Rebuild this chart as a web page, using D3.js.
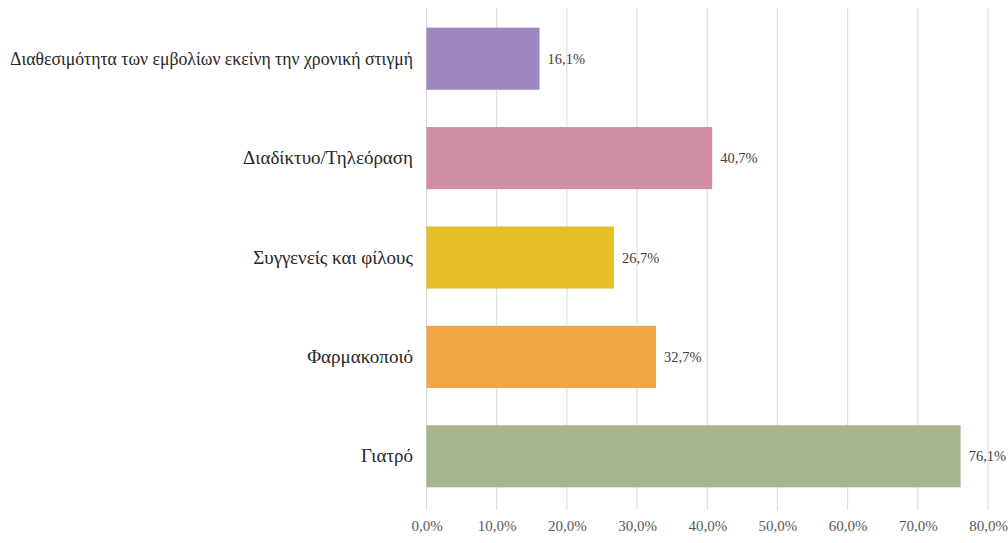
<!DOCTYPE html>
<html>
<head>
<meta charset="utf-8">
<script src="https://cdn.jsdelivr.net/npm/d3@7"></script>
<style>
  html, body { margin: 0; padding: 0; background: #fff; }
  svg { display: block; }
</style>
</head>
<body>
<svg id="chart" width="1008" height="543"></svg>
<script>
// Categories listed top to bottom
const categories = [
  "Διαθεσιμότητα των εμβολίων εκείνη την χρονική στιγμή",
  "Διαδίκτυο/Τηλεόραση",
  "Συγγενείς και φίλους",
  "Φαρμακοποιό",
  "Γιατρό"
];
const values = [16.1, 40.7, 26.7, 32.7, 76.1];
const barColors = ["#9e86c0", "#d08fa6", "#e5be28", "#f2a545", "#a6b490"];
const tickValues = [0, 10, 20, 30, 40, 50, 60, 70, 80];

const svg = d3.select("#chart");
const fontFamily = "'Liberation Serif', 'DejaVu Serif', serif";

const x = d3.scaleLinear().domain([0, 80]).range([426.5, 988]);
const y = d3.scaleBand().domain(categories).range([9, 506]).paddingInner(0.375).paddingOuter(0.1875);

const fmt = v => d3.format(".1f")(v).replace(".", ",") + "%";

// Vertical gridlines
svg.append("g")
  .selectAll("line")
  .data(tickValues)
  .join("line")
  .attr("x1", d => x(d)).attr("x2", d => x(d))
  .attr("y1", 8).attr("y2", 510)
  .attr("stroke", "#d9d9d9")
  .attr("stroke-width", 1);

// X axis tick labels
const xAxis = d3.axisBottom(x).tickValues(tickValues).tickFormat(fmt).tickSize(0).tickPadding(0);
const gx = svg.append("g").attr("transform", "translate(0,520)").call(xAxis);
gx.select(".domain").remove();
gx.selectAll("text")
  .attr("font-family", fontFamily)
  .attr("font-size", 15)
  .attr("fill", "#595959");

// Bars
svg.append("g")
  .selectAll("rect")
  .data(categories)
  .join("rect")
  .attr("x", x(0))
  .attr("y", d => y(d))
  .attr("width", (d, i) => x(values[i]) - x(0))
  .attr("height", y.bandwidth())
  .attr("fill", (d, i) => barColors[i]);

// Value labels
svg.append("g")
  .selectAll("text")
  .data(categories)
  .join("text")
  .attr("x", (d, i) => x(values[i]) + 8)
  .attr("y", d => y(d) + y.bandwidth() / 2)
  .attr("dy", "0.35em")
  .attr("font-family", fontFamily)
  .attr("font-size", 14.5)
  .attr("fill", "#404040")
  .text((d, i) => fmt(values[i]));

// Category labels, squeezed to fit in the left margin when too long
const labelRight = 413;
const maxLabelWidth = labelRight - 10;
const yAxis = d3.axisLeft(y).tickSize(0).tickPadding(0);
const gy = svg.append("g").attr("transform", `translate(${labelRight},0)`).call(yAxis);
gy.select(".domain").remove();
gy.selectAll("text")
  .attr("font-family", fontFamily)
  .attr("font-size", 19)
  .attr("fill", "#262626")
  .each(function () {
    const w = this.getComputedTextLength();
    if (w > maxLabelWidth) {
      d3.select(this).attr("textLength", maxLabelWidth).attr("lengthAdjust", "spacingAndGlyphs");
    }
  });
</script>
</body>
</html>
